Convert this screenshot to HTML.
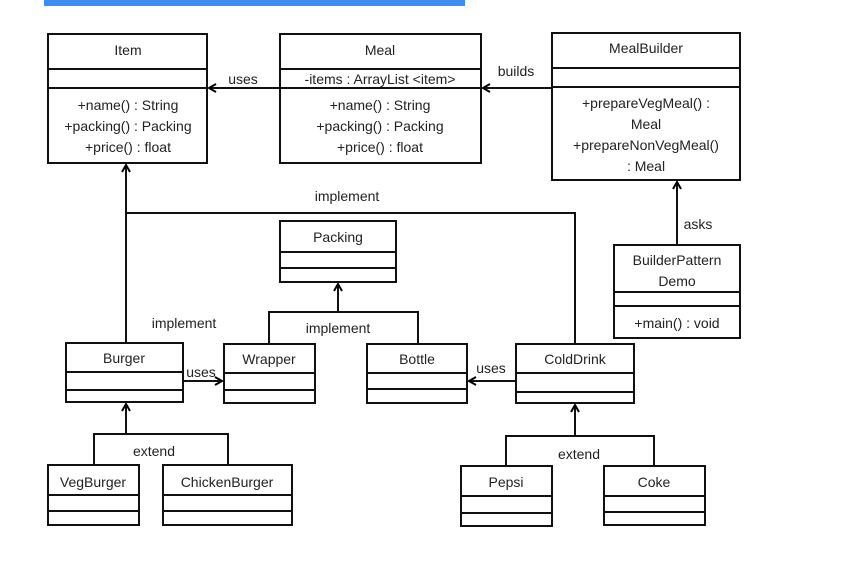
<!DOCTYPE html>
<html><head><meta charset="utf-8"><style>
html,body{margin:0;padding:0;background:#fff;}
svg{display:block;}
text{font-family:"Liberation Sans",sans-serif;font-size:14px;fill:#222;}
</style></head><body>
<svg width="862" height="562" viewBox="0 0 862 562" xmlns="http://www.w3.org/2000/svg">
<defs>
<marker id="a" markerWidth="10" markerHeight="10" refX="8" refY="5" orient="auto" markerUnits="userSpaceOnUse">
<path d="M1,1 L8,5 L1,9" fill="none" stroke="#000" stroke-width="2"/>
</marker>
</defs>
<rect x="44" y="0" width="421" height="6" fill="#3d8ef2"/>
<g fill="none" stroke="#111" stroke-width="2">
<!-- Item -->
<rect x="48" y="34" width="159" height="129"/><line x1="48" y1="69" x2="207" y2="69"/><line x1="48" y1="88" x2="207" y2="88"/>
<!-- Meal -->
<rect x="280" y="34" width="201" height="129"/><line x1="280" y1="69" x2="481" y2="69"/><line x1="280" y1="88" x2="481" y2="88"/>
<!-- MealBuilder -->
<rect x="552" y="33" width="188" height="147"/><line x1="552" y1="68" x2="740" y2="68"/><line x1="552" y1="87" x2="740" y2="87"/>
<!-- Packing -->
<rect x="280" y="221" width="116" height="61"/><line x1="280" y1="252" x2="396" y2="252"/><line x1="280" y1="268" x2="396" y2="268"/>
<!-- BuilderPatternDemo -->
<rect x="614" y="245" width="126" height="93"/><line x1="614" y1="292" x2="740" y2="292"/><line x1="614" y1="306" x2="740" y2="306"/>
<!-- Burger -->
<rect x="66" y="343" width="117" height="59"/><line x1="66" y1="372" x2="183" y2="372"/><line x1="66" y1="390" x2="183" y2="390"/>
<!-- Wrapper -->
<rect x="224" y="344" width="91" height="59"/><line x1="224" y1="373" x2="315" y2="373"/><line x1="224" y1="390" x2="315" y2="390"/>
<!-- Bottle -->
<rect x="367" y="344" width="100" height="59"/><line x1="367" y1="373" x2="467" y2="373"/><line x1="367" y1="389" x2="467" y2="389"/>
<!-- ColdDrink -->
<rect x="516" y="344" width="118" height="59"/><line x1="516" y1="373" x2="634" y2="373"/><line x1="516" y1="392" x2="634" y2="392"/>
<!-- VegBurger -->
<rect x="48" y="465" width="91" height="60"/><line x1="48" y1="495" x2="139" y2="495"/><line x1="48" y1="511" x2="139" y2="511"/>
<!-- ChickenBurger -->
<rect x="163" y="465" width="129" height="60"/><line x1="163" y1="495" x2="292" y2="495"/><line x1="163" y1="511" x2="292" y2="511"/>
<!-- Pepsi -->
<rect x="461" y="466" width="91" height="60"/><line x1="461" y1="496" x2="552" y2="496"/><line x1="461" y1="513" x2="552" y2="513"/>
<!-- Coke -->
<rect x="604" y="466" width="101" height="59"/><line x1="604" y1="496" x2="705" y2="496"/><line x1="604" y1="512" x2="705" y2="512"/>

<!-- connectors -->
<line x1="280" y1="88" x2="209" y2="88" marker-end="url(#a)"/>
<line x1="552" y1="88" x2="483" y2="88" marker-end="url(#a)"/>
<line x1="677" y1="245" x2="677" y2="182" marker-end="url(#a)"/>
<line x1="126" y1="343" x2="126" y2="165" marker-end="url(#a)"/>
<polyline points="126,213 575,213 575,344"/>
<line x1="338" y1="312" x2="338" y2="284" marker-end="url(#a)"/>
<polyline points="269,344 269,312 418,312 418,344"/>
<line x1="183" y1="381" x2="222" y2="381" marker-end="url(#a)"/>
<line x1="516" y1="381" x2="469" y2="381" marker-end="url(#a)"/>
<line x1="126" y1="434" x2="126" y2="404" marker-end="url(#a)"/>
<polyline points="94,465 94,434 228,434 228,465"/>
<line x1="575" y1="436" x2="575" y2="405" marker-end="url(#a)"/>
<polyline points="506,466 506,436 654,436 654,466"/>
</g>
<g text-anchor="middle">
<text x="128" y="55">Item</text>
<text x="128" y="110">+name() : String</text>
<text x="128" y="131">+packing() : Packing</text>
<text x="128" y="152">+price() : float</text>
<text x="380" y="55">Meal</text>
<text x="380" y="84">-items : ArrayList &lt;item&gt;</text>
<text x="380" y="110">+name() : String</text>
<text x="380" y="131">+packing() : Packing</text>
<text x="380" y="152">+price() : float</text>
<text x="646" y="53">MealBuilder</text>
<text x="646" y="108">+prepareVegMeal() :</text>
<text x="646" y="129">Meal</text>
<text x="646" y="150">+prepareNonVegMeal()</text>
<text x="646" y="171">: Meal</text>
<text x="338" y="242">Packing</text>
<text x="677" y="265">BuilderPattern</text>
<text x="677" y="286">Demo</text>
<text x="677" y="328">+main() : void</text>
<text x="124" y="363">Burger</text>
<text x="269" y="364">Wrapper</text>
<text x="417" y="364">Bottle</text>
<text x="575" y="364">ColdDrink</text>
<text x="93" y="487">VegBurger</text>
<text x="227" y="487">ChickenBurger</text>
<text x="506" y="487">Pepsi</text>
<text x="654" y="487">Coke</text>
<text x="243" y="84">uses</text>
<text x="516" y="76">builds</text>
<text x="698" y="229">asks</text>
<text x="347" y="201">implement</text>
<text x="184" y="328">implement</text>
<text x="338" y="333">implement</text>
<text x="201" y="377">uses</text>
<text x="491" y="373">uses</text>
<text x="154" y="456">extend</text>
<text x="579" y="459">extend</text>
</g>
</svg>
</body></html>
